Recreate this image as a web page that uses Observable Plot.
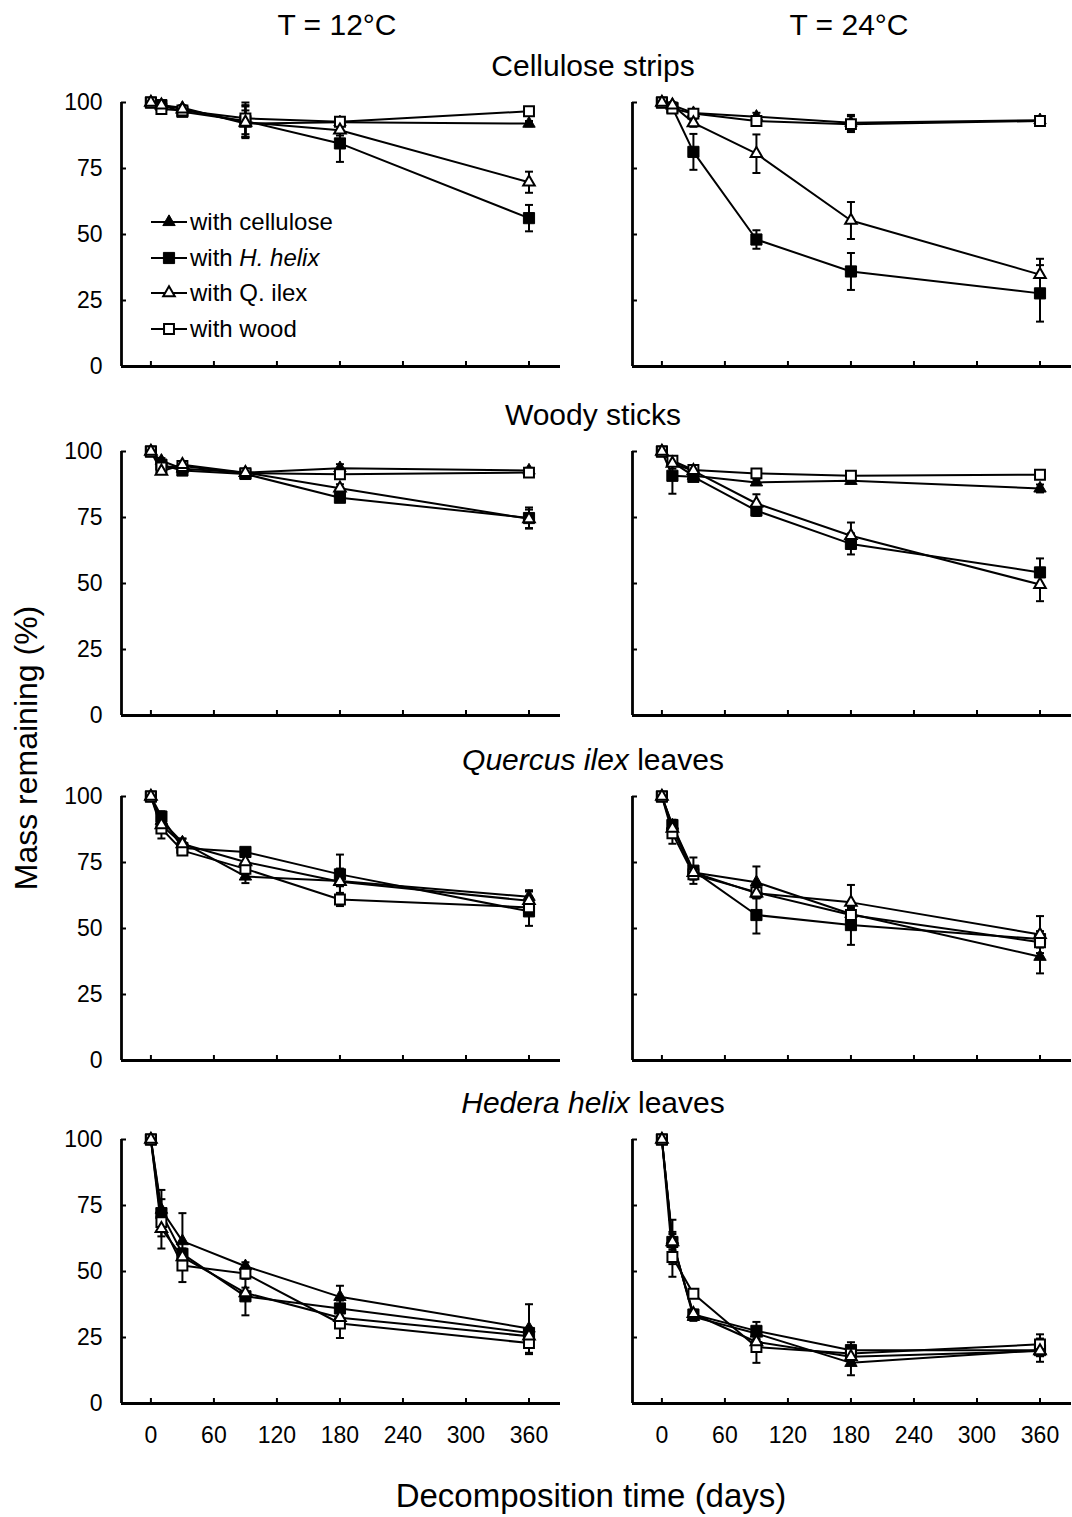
<!DOCTYPE html>
<html><head><meta charset="utf-8">
<script src="https://cdn.jsdelivr.net/npm/d3@7"></script>
<script src="https://cdn.jsdelivr.net/npm/@observablehq/plot@0.6"></script>
<style>
body{margin:0;background:#fff;font-family:"Liberation Sans",Arial,sans-serif;}
#root{position:relative;width:1072px;height:1517px;overflow:hidden;background:#fff;}
.lbl{position:absolute;color:#000;white-space:nowrap;}
.panel{position:absolute;}
.leg{position:absolute;font-size:24px;line-height:24px;white-space:nowrap;color:#000;}
.leg svg{position:absolute;left:-39px;top:2px;overflow:visible;}
</style></head><body><div id="root"></div><script>
// ---------------- data ----------------
const days = [0, 10, 30, 90, 180, 360];
const seriesNames = ["with cellulose", "with H. helix", "with Q. ilex", "with wood"];
const temps = ["T = 12°C", "T = 24°C"];
const substrates = ["Cellulose strips", "Woody sticks", "Quercus ilex leaves", "Hedera helix leaves"];
const xTicks = [0, 60, 120, 180, 240, 300, 360];
const yTicks = [0, 25, 50, 75, 100];

// rows: with cellulose, with H. helix, with Q. ilex, with wood ; columns: days
const cellulose12    = [[100,99,98,92,92.5,92],[100,99,96.5,93,84.5,56.2],[100,99,97.5,92.5,89.5,69.8],[100,97.5,97,94,92.7,96.7]];
const cellulose12Err = [[0,1,1,5,1.5,1],[0,1,1.5,6,7,5],[0,1,1,6,2,4],[0,1,1,6,1.5,1]];
const cellulose24    = [[100,99,96,94.6,92.3,93.3],[100,98,81.3,48.1,36,27.7],[100,99,92.3,80.6,55.3,34.8],[100,97.7,95.8,93,91.8,93]];
const cellulose24Err = [[0,1,1.5,1.5,3,1.5],[0,1,6.8,3.5,7,10.7],[0,1,1.5,7.3,7,6],[0,1,1.5,1.5,3,1.5]];
const woody12        = [[100,96.5,93.5,92,93.7,92.8],[100,95,92.8,91.5,82.5,74.8],[100,92.5,95,92,86.1,74.5],[100,94,94.5,91.8,91.4,92]];
const woody12Err     = [[0,1,1,1,1.5,1],[0,1,1,1,1.5,4],[0,1,1,1,1.5,3.5],[0,1,1,1,1,1]];
const woody24        = [[100,96,90.8,88.3,88.9,86],[100,90.8,90.4,77.6,65,54.2],[100,95.5,92.7,80.3,68.1,49.6],[100,96.5,93,91.7,90.8,91.2]];
const woody24Err     = [[0,1,1,1,1,1.5],[0,6.8,1.5,2,4,5.3],[0,2,1.5,3.5,5,6.3],[0,1,1,1,1,1]];
const quercus12      = [[100,90.8,82.6,69.7,68,62],[100,92.4,80.5,79,70.5,56.5],[100,89.2,82,75.2,67.7,60.5],[100,87.9,79.5,72.6,61,58]];
const quercus12Err   = [[0,2,1.5,2.5,2,2],[0,2,1.5,1.5,7.5,5.5],[0,2,2,2,5,4],[0,3.8,1.5,2,2.5,2]];
const quercus24      = [[100,89,71.2,67.5,55.5,39.3],[100,89.2,71.9,55.1,51.3,46],[100,87.9,71.2,63.4,59.9,47.7],[100,86.1,70.5,63.7,55.1,44.8]];
const quercus24Err   = [[0,2,2,6,2,6.3],[0,2,5,7,7.5,3],[0,2,2,2,6.6,7],[0,4,2,2,3,2]];
const hedera12       = [[100,73.4,61.5,52,40.4,28.4],[100,72.1,56.7,40.6,36,26.7],[100,66.2,55.5,41.9,32.5,25.5],[100,68.7,52.3,49.2,30.3,22.9]];
const hedera12Err    = [[0,4,10.6,1.5,4.2,9.2],[0,8.8,2,7.2,3,2],[0,7.5,2,2,2,2],[0,3,6.3,2,5.5,4.2]];
const hedera24       = [[100,62,32.8,26.5,15.4,20.2],[100,61.2,33.7,27.5,20.2,20.2],[100,61.2,34,23.3,17.7,19.9],[100,55.5,41.6,21.4,18.9,22.4]];
const hedera24Err    = [[0,3,1.5,2,4.7,4.4],[0,8.4,1.5,3.4,3,2],[0,3,1.5,2,2,2],[0,7.5,1.5,6,2,3.8]];

const panelData = [
  [[cellulose12, cellulose12Err], [cellulose24, cellulose24Err]],
  [[woody12, woody12Err], [woody24, woody24Err]],
  [[quercus12, quercus12Err], [quercus24, quercus24Err]],
  [[hedera12, hedera12Err], [hedera24, hedera24Err]]
];

// ---------------- layout & style ----------------
const xDomain = [-28, 390];
const frameTops = [102, 451, 796, 1139];
const frameH = 264, frameW = 439;
const seriesStyle = [
  {symbol: "triangle", fill: "black", strokeWidth: 1, r: 4.6},
  {symbol: "square",   fill: "black", strokeWidth: 1, r: 6.3},
  {symbol: "triangle", fill: "white", strokeWidth: 2, r: 4.3},
  {symbol: "square",   fill: "white", strokeWidth: 2, r: 5.6}
];
const drawOrder = [0, 1, 3, 2];
const capSymbol = {draw(ctx, size) { const w = Math.sqrt(size / Math.PI); ctx.moveTo(-w, 0); ctx.lineTo(w, 0); }};
const root = document.getElementById("root");

function makePanel(means, errs, col, row) {
  const rows = [];
  means.forEach((vals, s) => vals.forEach((v, i) => rows.push({s, t: days[i], v, e: errs[s][i], lo: v - errs[s][i], hi: v + errs[s][i]})));
  const bottom = row === substrates.length - 1;
  const mt = 20, mb = bottom ? 62 : 14;
  const ml = col === 0 ? 121 : 72, mr = col === 0 ? 0 : 1;
  const withErr = rows.filter(d => d.e > 0);
  const marks = [
    Plot.ruleX([xDomain[0]], {stroke: "black", strokeWidth: 2.8}),
    Plot.ruleY([0], {stroke: "black", strokeWidth: 2.8}),
    Plot.tickY(yTicks, {y: d => d, insetRight: frameW - 5, stroke: "black", strokeWidth: 2}),
    Plot.tickX(xTicks, {x: d => d, insetTop: frameH - 5, stroke: "black", strokeWidth: 2})
  ];
  for (const s of drawOrder) {
    marks.push(Plot.line(rows.filter(d => d.s === s), {x: "t", y: "v", stroke: "black", strokeWidth: 2}));
  }
  marks.push(
    Plot.ruleX(withErr, {x: "t", y1: "lo", y2: "hi", stroke: "black", strokeWidth: 2}),
    Plot.dot(withErr, {x: "t", y: "hi", symbol: capSymbol, r: 4, stroke: "black", strokeWidth: 2, fill: "none"}),
    Plot.dot(withErr, {x: "t", y: "lo", symbol: capSymbol, r: 4, stroke: "black", strokeWidth: 2, fill: "none"})
  );
  for (const s of drawOrder) {
    const st = seriesStyle[s];
    marks.push(Plot.dot(rows.filter(d => d.s === s), {x: "t", y: "v", symbol: st.symbol, r: st.r, fill: st.fill, stroke: "black", strokeWidth: st.strokeWidth}));
  }
  if (col === 0) marks.push(Plot.axisY(yTicks, {tickSize: 0, tickPadding: 19, label: null}));
  if (bottom) marks.push(Plot.axisX(xTicks, {tickSize: 0, tickPadding: 23, label: null}));
  const svg = Plot.plot({
    width: ml + frameW + mr,
    height: mt + frameH + mb,
    marginTop: mt, marginBottom: mb, marginLeft: ml, marginRight: mr,
    x: Object.assign({domain: xDomain}, bottom ? {} : {axis: null}),
    y: Object.assign({domain: [0, 100]}, col === 0 ? {} : {axis: null}),
    style: {fontFamily: '"Liberation Sans", Arial, sans-serif', fontSize: "23px", background: "transparent", overflow: "visible", maxWidth: "none", color: "black"},
    marks
  });
  const wrap = document.createElement("div");
  wrap.className = "panel";
  wrap.style.left = (col === 0 ? 0 : 632 - ml) + "px";
  wrap.style.top = (frameTops[row] - mt) + "px";
  wrap.appendChild(svg);
  root.appendChild(wrap);
}

panelData.forEach((r, row) => r.forEach(([m, e], col) => makePanel(m, e, col, row)));

// ---------------- text ----------------
function addLabel(html, cx, baseline, fs) {
  const d = document.createElement("div");
  d.className = "lbl";
  d.innerHTML = html;
  d.style.fontSize = fs + "px";
  d.style.lineHeight = fs + "px";
  d.style.left = cx + "px";
  d.style.top = (baseline - fs * 0.8465) + "px";
  d.style.transform = "translateX(-50%)";
  root.appendChild(d);
}
addLabel(temps[0], 337, 35, 30);
addLabel(temps[1], 849, 35, 30);
const subHtml = [substrates[0], substrates[1], "<i>Quercus ilex</i> leaves", "<i>Hedera helix</i> leaves"];
subHtml.forEach((h, i) => addLabel(h, 593, frameTops[i] - 26, 30));
addLabel("Decomposition time (days)", 591, 1507, 33);
const yl = document.createElement("div");
yl.className = "lbl";
yl.textContent = "Mass remaining (%)";
yl.style.fontSize = "32px"; yl.style.lineHeight = "32px";
yl.style.left = "26px"; yl.style.top = "748px";
yl.style.transform = "translate(-50%,-50%) rotate(-90deg)";
root.appendChild(yl);

// legend
const legHtml = ["with cellulose", "with <i>H. helix</i>", "with Q. ilex", "with wood"];
const legY = [222, 258, 293, 329];
const symMap = {triangle: d3.symbolTriangle, square: d3.symbolSquare};
seriesNames.forEach((name, s) => {
  const st = seriesStyle[s];
  const d = document.createElement("div");
  d.className = "leg";
  d.style.left = "190px";
  d.style.top = (legY[s] - 12) + "px";
  const path = d3.symbol(symMap[st.symbol], Math.PI * st.r * st.r)();
  d.innerHTML = `<svg width="36" height="20"><line x1="0" x2="36" y1="10" y2="10" stroke="black" stroke-width="2"/><path d="${path}" transform="translate(18,10)" fill="${st.fill}" stroke="black" stroke-width="${st.strokeWidth}"/></svg>${legHtml[s]}`;
  d.title = name;
  root.appendChild(d);
});
</script></body></html>
